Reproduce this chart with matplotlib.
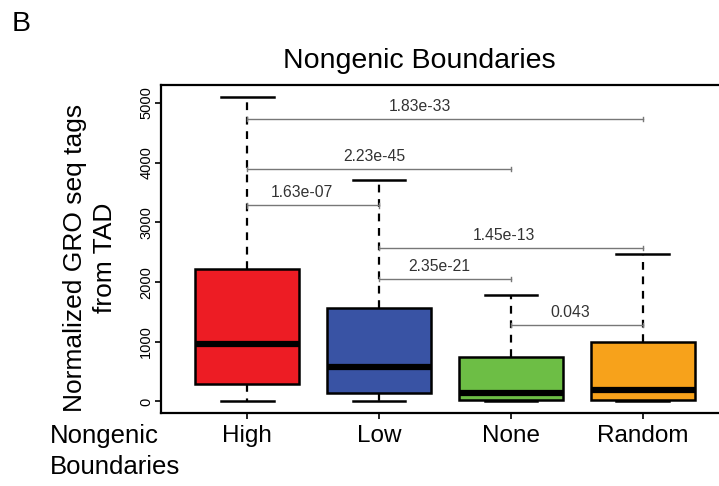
import matplotlib
matplotlib.use("Agg")
import matplotlib.pyplot as plt

plt.rcParams['font.family'] = ['Liberation Sans', 'DejaVu Sans']

groups = ['High', 'Low', 'None', 'Random']
colors = ['#ED1C24', '#3953A4', '#6DBE45', '#F7A21B']

# box statistics (GRO-seq tags)
whis_lo = [5, 5, 5, 5]
q1 = [291, 134, 17, 20]
median = [967, 576, 140, 196]
q3 = [2223, 1565, 749, 1000]
whis_hi = [5095, 3715, 1788, 2463]

# pairwise comparisons: (group a, group b, height, p-value)
pair_a = [1, 1, 1, 2, 2, 3]
pair_b = [4, 3, 2, 4, 3, 4]
pair_y = [4727, 3891, 3283, 2570, 2052, 1276]
pvals = ['1.83e-33', '2.23e-45', '1.63e-07', '1.45e-13', '2.35e-21', '0.043']
label_x = [2.308, 1.96, 1.413, 2.949, 2.457, 3.45]

fig = plt.figure(figsize=(7.19, 4.86), dpi=100)
ax = fig.add_axes([161 / 719, 1 - 413 / 486, 558 / 719, 328 / 486])

stats = []
for i, g in enumerate(groups):
    stats.append(dict(label=g, whislo=whis_lo[i], q1=q1[i], med=median[i],
                      q3=q3[i], whishi=whis_hi[i], fliers=[]))

pos = list(range(1, len(groups) + 1))
bp = ax.bxp(stats, positions=pos, widths=0.79, patch_artist=True,
            showfliers=False,
            boxprops=dict(linewidth=1.8, edgecolor='black'),
            medianprops=dict(color='black', linewidth=4.5, solid_capstyle='butt'),
            whiskerprops=dict(color='black', linewidth=1.6, linestyle=(0, (3.5, 3))),
            capprops=dict(color='black', linewidth=1.8),
            capwidths=0.4)
for patch, c in zip(bp['boxes'], colors):
    patch.set_facecolor(c)
    patch.set_zorder(2)
for m in bp['medians']:
    m.set_zorder(3)

# significance brackets
for a, b, y, p, tx in zip(pair_a, pair_b, pair_y, pvals, label_x):
    ax.plot([a, b], [y, y], color='#777777', linewidth=1.0, zorder=4)
    ax.plot([a, a], [y - 35, y + 35], color='#777777', linewidth=1.0, zorder=4)
    ax.plot([b, b], [y - 35, y + 35], color='#777777', linewidth=1.0, zorder=4)
    ax.text(tx, y + 210, p, ha='center', va='center', fontsize=11.3,
            color='#333333')

ax.set_xlim(1 - 86.3 / 131.8, 4 + 76.3 / 131.8)
ax.set_ylim(-194, 5302)
ax.set_yticks([0, 1000, 2000, 3000, 4000, 5000])
ax.set_yticklabels(['0', '1000', '2000', '3000', '4000', '5000'],
                   rotation=90, va='center', fontsize=10.5)
ax.set_xticks(pos)
ax.set_xticklabels(groups, fontsize=17.5)
ax.tick_params(axis='both', direction='out', length=4, width=1.2, color='black')
ax.tick_params(axis='x', pad=4.5)
ax.tick_params(axis='y', pad=1.5)
ax.spines['right'].set_visible(False)
for s in ['left', 'top', 'bottom']:
    ax.spines[s].set_linewidth(1.6)

fig.text(419 / 719, 1 - 61 / 486, 'Nongenic Boundaries', ha='center',
         va='center', fontsize=20.5)
fig.text(90 / 719, 1 - 258 / 486, 'Normalized GRO seq tags\nfrom TAD',
         rotation=90, ha='center', va='center', multialignment='center',
         fontsize=19, linespacing=1.3)
fig.text(50 / 719, 1 - 436 / 486, 'Nongenic', ha='left', va='center',
         fontsize=18.5)
fig.text(50 / 719, 1 - 467 / 486, 'Boundaries', ha='left', va='center',
         fontsize=18.5)
fig.text(12 / 719, 1 - 24 / 486, 'B', ha='left', va='center', fontsize=20.5)

fig.savefig('out.png', dpi=100)
